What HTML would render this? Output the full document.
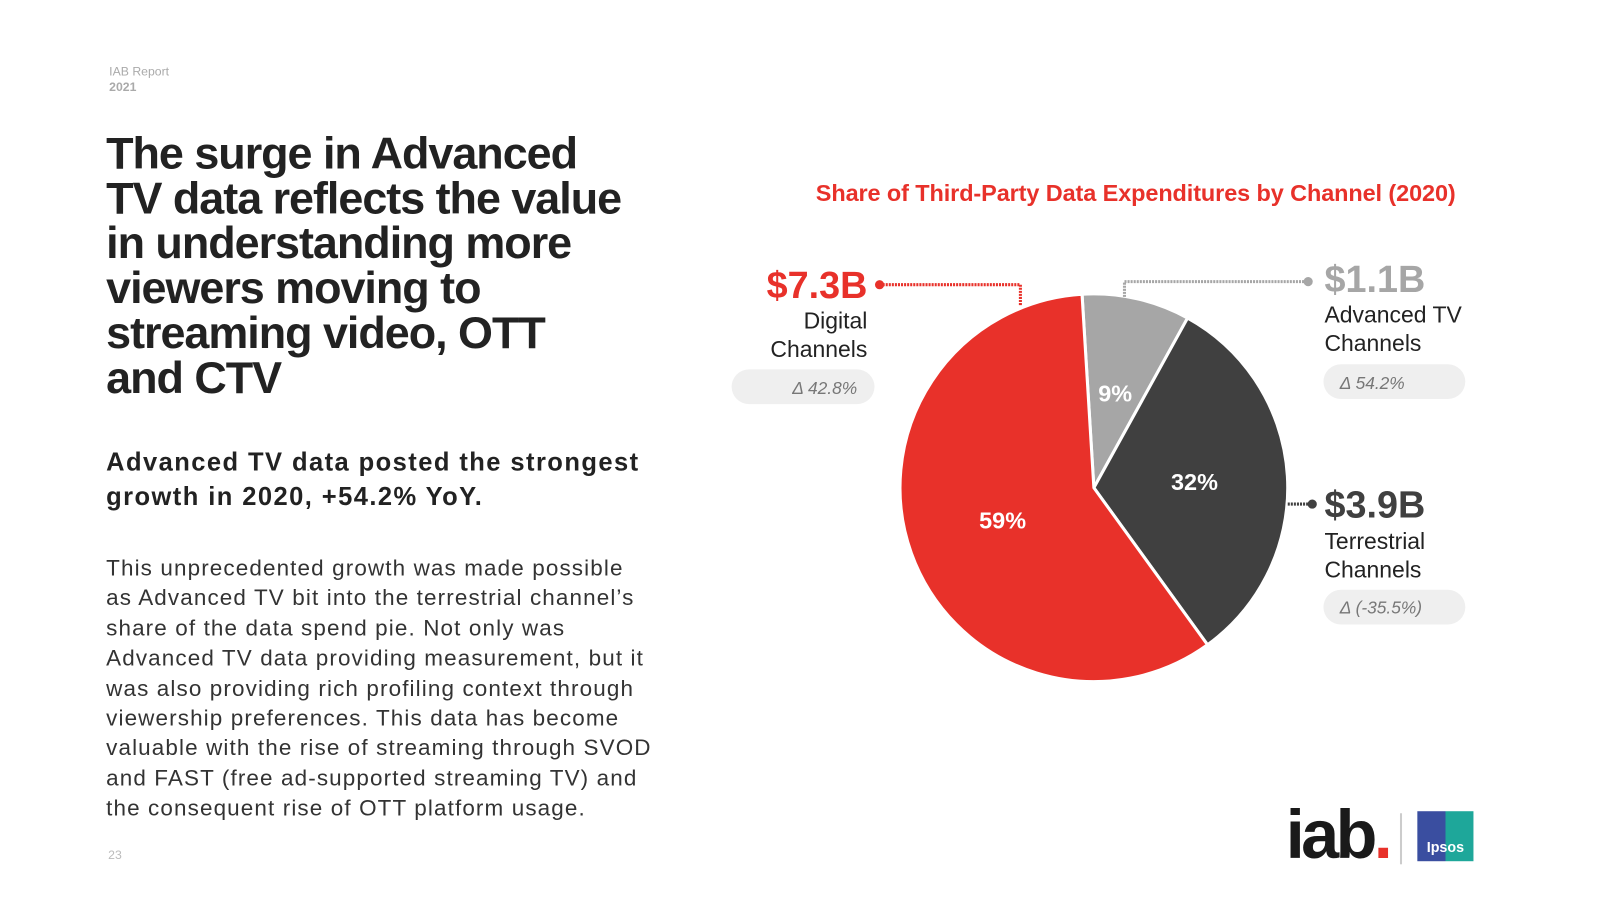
<!DOCTYPE html>
<html><head><meta charset="utf-8"><style>
body{margin:0;width:1600px;height:900px;background:#fff;font-family:"Liberation Sans",Arial,sans-serif;position:relative;overflow:hidden;color:#222}
#wrap{position:absolute;left:0;top:0;width:1568px;height:882px;transform:scale(1.0204);transform-origin:0 0}
.a{position:absolute;margin:0}
</style></head><body>
<div id="wrap">
<div class="a" style="left:107px;top:63px;font-size:12px;color:#aaa;line-height:15px">IAB Report<br><b>2021</b></div>
<h1 class="a" style="left:104px;top:129px;font-size:44px;line-height:44px;font-weight:bold;letter-spacing:-1px;color:#222">The surge in Advanced<br>TV data reflects the value<br>in understanding more<br>viewers moving to<br>streaming video, OTT<br>and CTV</h1>
<div class="a" style="left:104px;top:436px;font-size:25px;line-height:34px;font-weight:bold;letter-spacing:1.4px;color:#222">Advanced TV data posted the strongest<br>growth in 2020, +54.2% YoY.</div>
<div class="a" style="left:104px;top:542px;font-size:22px;line-height:29.4px;color:#333;letter-spacing:1.1px">This unprecedented growth was made possible<br>as Advanced TV bit into the terrestrial channel’s<br>share of the data spend pie. Not only was<br>Advanced TV data providing measurement, but it<br>was also providing rich profiling context through<br>viewership preferences. This data has become<br>valuable with the rise of streaming through SVOD<br>and FAST (free ad-supported streaming TV) and<br>the consequent rise of OTT platform usage.</div>
<div class="a" style="left:106px;top:831px;font-size:12px;color:#bbb">23</div>
<div class="a" style="left:780px;top:176px;width:666px;text-align:center;font-size:23px;font-weight:bold;color:#e8312a;letter-spacing:-0.1px">Share of Third-Party Data Expenditures by Channel (2020)</div>
<svg class="a" id="chart" style="left:0;top:0" width="1568" height="882"></svg>
<div class="a" style="left:1260px;top:786px;font-size:67px;font-weight:bold;letter-spacing:-3.5px;color:#1a1a1a;line-height:66px">iab<span style="color:#e8312a">.</span></div>
<div class="a" style="left:1372px;top:797px;width:2px;height:50px;background:#ccc"></div>
<div class="a" style="left:1389px;top:795px;width:55px;height:49px;background:linear-gradient(90deg,#3a4ea0 50%,#1ea79a 50%);color:#fff;font-size:14px;font-weight:bold;text-align:center;line-height:70px">Ipsos</div>
</div>
<script>
const categories=["Digital Channels","Advanced TV Channels","Terrestrial Channels"];
const shares=[59,9,32];
const amounts=["$7.3B","$1.1B","$3.9B"];
const deltas=["Δ 42.8%","Δ 54.2%","Δ (-35.5%)"];
const ns="http://www.w3.org/2000/svg",svg=document.getElementById('chart');
const cx=1072,cy=478,r=190,start=-3.5;
const order=[1,2,0],colors={0:"#e8312a",1:"#a6a6a6",2:"#404040"};
function pt(a,rr){const t=a*Math.PI/180;return [cx+rr*Math.sin(t),cy-rr*Math.cos(t)];}
const total=shares.reduce((a,b)=>a+b,0);
let ang=start;
const labelR={0:0.5,1:0.5,2:0.52};
order.forEach(i=>{
 const sweep=shares[i]/total*360,a0=ang,a1=ang+sweep;ang=a1;
 const p0=pt(a0,r),p1=pt(a1,r);
 const path=document.createElementNS(ns,'path');
 path.setAttribute('d',`M${cx},${cy}L${p0[0]},${p0[1]}A${r},${r} 0 ${sweep>180?1:0} 1 ${p1[0]},${p1[1]}Z`);
 path.setAttribute('fill',colors[i]);path.setAttribute('stroke','#fff');path.setAttribute('stroke-width','3');
 
 
 svg.appendChild(path);
 const lp=pt((a0+a1)/2,r*labelR[i]);
 const t=document.createElementNS(ns,'text');
 t.setAttribute('x',lp[0]);t.setAttribute('y',lp[1]+8);t.setAttribute('text-anchor','middle');
 t.setAttribute('fill','#fff');t.setAttribute('font-size','23');t.setAttribute('font-weight','bold');
 t.setAttribute('font-family','Liberation Sans, sans-serif');
 t.textContent=shares[i]+'%';
 
 
 svg.appendChild(t);
});
function txt(x,y,s,size,fill,anchor,weight,name,style){
 const t=document.createElementNS(ns,'text');
 t.setAttribute('x',x);t.setAttribute('y',y);t.setAttribute('font-size',size);t.setAttribute('fill',fill);
 t.setAttribute('text-anchor',anchor);t.setAttribute('font-weight',weight);
 t.setAttribute('font-family','Liberation Sans, sans-serif');
 if(style)t.setAttribute('font-style',style);
 t.textContent=s;
 
 
 svg.appendChild(t);
}
function line(d,c,name){const p=document.createElementNS(ns,'path');p.setAttribute('d',d);p.setAttribute('stroke',c);p.setAttribute('stroke-width','3');p.setAttribute('fill','none');p.setAttribute('stroke-dasharray','2 1');
 
 
 svg.appendChild(p);}
function dot(x,y,c,name){const e=document.createElementNS(ns,'circle');e.setAttribute('cx',x);e.setAttribute('cy',y);e.setAttribute('r',4.5);e.setAttribute('fill',c);
 
 
 svg.appendChild(e);}
function pill(x,y,w,name){const e=document.createElementNS(ns,'rect');e.setAttribute('x',x);e.setAttribute('y',y);e.setAttribute('width',w);e.setAttribute('height',34);e.setAttribute('rx',17);e.setAttribute('fill','#efefef');
 
 
 svg.appendChild(e);}
// Digital
line('M862,279 L1000,279 L1000,300','#e8312a','leader-digital');dot(862,279,'#e8312a','leader-dot-digital');
txt(850,292,amounts[0],37,'#e8312a','end','bold','amount-digital');
txt(850,322,'Digital',22.5,'#222','end','normal','label-digital');
txt(850,350,'Channels',22.5,'#222','end','normal','label-digital-2');
pill(717,362,140,'delta-pill-digital');txt(840,386,deltas[0],17,'#777','end','normal','delta-digital','italic');
// Advanced TV
line('M1102,297 L1102,276 L1280,276','#a6a6a6','leader-advtv');dot(1282,276,'#a6a6a6','leader-dot-advtv');
txt(1298,286,amounts[1],37,'#a6a6a6','start','bold','amount-advtv');
txt(1298,316,'Advanced TV',22.5,'#222','start','normal','label-advtv');
txt(1298,344,'Channels',22.5,'#222','start','normal','label-advtv-2');
pill(1297,357,139,'delta-pill-advtv');txt(1313,381,deltas[1],17,'#777','start','normal','delta-advtv','italic');
// Terrestrial
line('M1262,494 L1284,494','#404040','leader-terr');dot(1286,494,'#404040','leader-dot-terr');
txt(1298,507,amounts[2],37,'#404040','start','bold','amount-terr');
txt(1298,538,'Terrestrial',22.5,'#222','start','normal','label-terr');
txt(1298,566,'Channels',22.5,'#222','start','normal','label-terr-2');
pill(1297,578,139,'delta-pill-terr');txt(1313,601,deltas[2],17,'#777','start','normal','delta-terr','italic');
</script>
</body></html>
